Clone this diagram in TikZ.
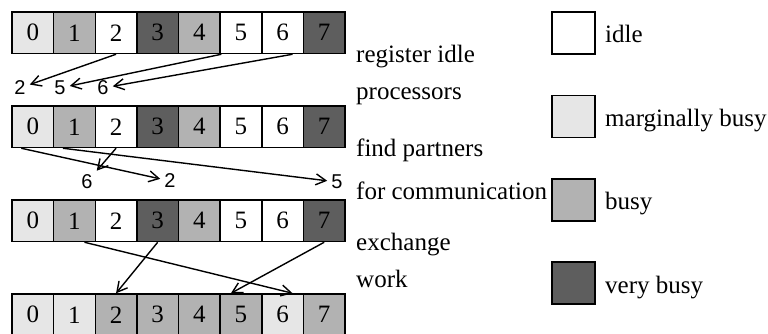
\documentclass[tikz,border=0pt]{standalone}
\usepackage{fontspec}
\setmainfont{Liberation Serif}
\newfontfamily\lsans{Liberation Sans}
\usetikzlibrary{arrows.meta}
\definecolor{margc}{RGB}{230,230,230}
\definecolor{busyc}{RGB}{178,178,178}
\definecolor{vbusyc}{RGB}{94,94,94}
\tikzset{
  cellbox/.style={draw, line width=1.5pt, minimum width=41.625pt, minimum height=41.5pt, inner sep=0pt, font=\fontsize{25}{28}\selectfont},
  legbox/.style={draw, line width=1.5pt, minimum width=43pt, minimum height=42pt, inner sep=0pt},
  lab/.style={font=\lsans\fontsize{20}{24}\selectfont, inner sep=4pt},
  txt/.style={font=\fontsize{25}{28}\selectfont, inner sep=0pt, anchor=base west},
  conn/.style={line width=1.4pt, -{Straight Barb[length=10pt,width=11pt]}}
}
\newcommand\cellrow[2]{%
  \foreach \c [count=\i from 0] in {#2} {
    \node[cellbox, fill=\c] (c#1\i) at ({12+41.625*(\i+0.5)}, {32.75+94*#1}) {\i};
  }}
\begin{document}
\begin{tikzpicture}[x=1pt,y=-1pt]
\useasboundingbox (0,0) rectangle (768,334);
\cellrow{0}{margc,busyc,white,vbusyc,busyc,white,white,vbusyc}
\cellrow{1}{margc,busyc,white,vbusyc,busyc,white,white,vbusyc}
\cellrow{2}{margc,busyc,white,vbusyc,busyc,white,white,vbusyc}
\cellrow{3}{margc,margc,busyc,busyc,busyc,busyc,margc,busyc}
% row 1 labels and arrows
\node[lab] (a2) at (20,88) {2};
\node[lab] (a5) at (60,88) {5};
\node[lab] (a6) at (103,88) {6};
\draw[conn] (c02.south) -- (a2);
\draw[conn] ([xshift=2pt]c05.south west) -- (a5);
\draw[conn] ([xshift=10pt]c06.south) -- (a6);
% row 2
\node[lab] (b6) at (87,182) {6};
\node[lab] (b2) at (170,181) {2};
\node[lab] (b5) at (337,182) {5};
\draw[conn] (c12.south) -- (b6);
\draw[conn] ([xshift=10pt]c10.south west) -- (b2);
\draw[conn] ([xshift=10pt]c11.south west) -- (b5);
% row 3
\draw[conn] ([xshift=10pt]c21.south) -- ([xshift=10pt]c36.north);
\draw[conn] (c23.south) -- (c32.north);
\draw[conn] (c27.south) -- ([xshift=-10pt]c35.north);
% step texts
\node[txt] (s1) at (356,63) {register idle};
\node[txt] (s2) at (356,100) {processors};
\node[txt] (s3) at (356,157) {find partners};
\node[txt] (s4) at (356,199) {for communication};
\node[txt] (s5) at (356,250) {exchange};
\node[txt] (s6) at (356,287) {work};
% legend
\node[legbox, fill=white] (k1) at (573.5,33) {};
\node[legbox, fill=margc] (k2) at (573.5,116.5) {};
\node[legbox, fill=busyc] (k3) at (573.5,200) {};
\node[legbox, fill=vbusyc] (k4) at (573.5,283) {};
\node[txt] (kl1) at (605,43) {idle};
\node[txt] (kl2) at (605,127) {marginally busy};
\node[txt] (kl3) at (605,209) {busy};
\node[txt] (kl4) at (605,293) {very busy};
\end{tikzpicture}
\end{document}
